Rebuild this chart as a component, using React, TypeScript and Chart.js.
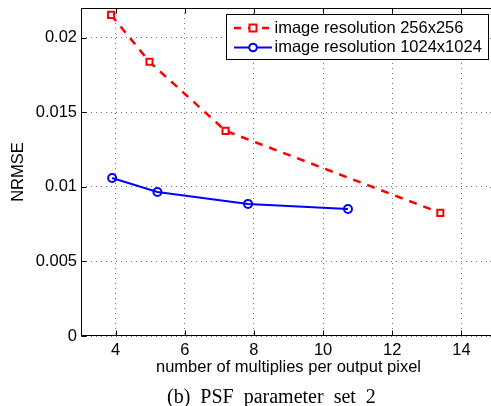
import { useEffect, useRef } from "react";
import { Chart, registerables } from "chart.js";

Chart.register(...registerables);

// ---- data ----
const seriesLabels = ["image resolution 256x256", "image resolution 1024x1024"];
const lowResX = [3.87, 4.98, 7.18, 13.39];
const lowResY = [0.02154, 0.01839, 0.01376, 0.00826];
const highResX = [3.9, 5.21, 7.83, 10.72];
const highResY = [0.0106, 0.00966, 0.00886, 0.00852];
const xTicks = [4, 6, 8, 10, 12, 14];
const xTickLabels = ["4", "6", "8", "10", "12", "14"];
const yTicks = [0, 0.005, 0.01, 0.015, 0.02];
const yTickLabels = ["0", "0.005", "0.01", "0.015", "0.02"];
const xTitle = "number of multiplies per output pixel";
const yTitle = "NRMSE";
const caption = "(b) PSF parameter set 2";

const SANS = '"Liberation Sans", Arial, Helvetica, sans-serif';
const SERIF = '"Liberation Serif", "Times New Roman", serif';
const FONT_SIZE = 16.5;
const RED = "#ff0000";
const BLUE = "#0000ff";

const framePlugin = {
  id: "framePlugin",
  afterDraw(chart: any) {
    const ctx = chart.ctx as CanvasRenderingContext2D;
    const { left, right, top, bottom } = chart.chartArea;
    const xs = chart.scales.x;
    const ys = chart.scales.y;
    ctx.save();
    // frame
    ctx.strokeStyle = "#000";
    ctx.lineWidth = 1;
    ctx.setLineDash([]);
    const L = Math.round(left) + 0.5;
    const R = Math.round(right) - 0.5;
    const T = Math.round(top) + 0.5;
    const B = Math.round(bottom) - 0.5;
    ctx.strokeRect(L, T, R - L, B - T);
    // inner ticks
    const tl = 5;
    ctx.beginPath();
    xTicks.forEach((v) => {
      const px = Math.round(xs.getPixelForValue(v)) + 0.5;
      ctx.moveTo(px, B);
      ctx.lineTo(px, B - tl);
      ctx.moveTo(px, T);
      ctx.lineTo(px, T + tl);
    });
    yTicks.forEach((v) => {
      const py = Math.round(ys.getPixelForValue(v)) + 0.5;
      ctx.moveTo(L, py);
      ctx.lineTo(L + tl, py);
      ctx.moveTo(R, py);
      ctx.lineTo(R - tl, py);
    });
    ctx.stroke();

    // legend box
    const bw = 262;
    const bh = 45;
    const bx = Math.round(right) - 8 - bw + 0.5;
    const by = Math.round(top) + 6 + 0.5;
    ctx.fillStyle = "#fff";
    ctx.fillRect(bx, by, bw, bh);
    ctx.strokeStyle = "#000";
    ctx.lineWidth = 1;
    ctx.strokeRect(bx, by, bw, bh);
    const rows = [by + 13.5, by + 33];
    const lx0 = bx + 7.5;
    const lx1 = bx + 45.5;
    const mx = bx + 26.5;
    ctx.font = `${FONT_SIZE}px ${SANS}`;
    ctx.textBaseline = "middle";
    ctx.textAlign = "left";
    // red row
    ctx.strokeStyle = RED;
    ctx.lineWidth = 2.5;
    ctx.setLineDash([7, 7]);
    ctx.beginPath();
    ctx.moveTo(lx0, rows[0]);
    ctx.lineTo(lx1, rows[0]);
    ctx.stroke();
    ctx.setLineDash([]);
    ctx.lineWidth = 2;
    ctx.fillStyle = "#fff";
    ctx.fillRect(mx - 3.5, rows[0] - 3.5, 7, 7);
    ctx.strokeRect(mx - 3.5, rows[0] - 3.5, 7, 7);
    // blue row
    ctx.strokeStyle = BLUE;
    ctx.beginPath();
    ctx.moveTo(lx0, rows[1]);
    ctx.lineTo(lx1, rows[1]);
    ctx.stroke();
    ctx.beginPath();
    ctx.arc(mx, rows[1], 3.8, 0, Math.PI * 2);
    ctx.fill();
    ctx.stroke();
    ctx.fillStyle = "#000";
    ctx.fillText(seriesLabels[0], bx + 48, rows[0]);
    ctx.fillText(seriesLabels[1], bx + 48, rows[1]);

    // caption
    ctx.font = `20px ${SERIF}`;
    ctx.textBaseline = "alphabetic";
    ctx.textAlign = "left";
    (ctx as any).wordSpacing = "5px";
    ctx.fillText(caption, 167, 403);
    ctx.restore();
  },
};

export default function App() {
  const ref = useRef<HTMLCanvasElement | null>(null);
  useEffect(() => {
    if (!ref.current) return;
    const font = { family: SANS, size: FONT_SIZE };
    const chart = new Chart(ref.current, {
      type: "scatter",
      data: {
        datasets: [
          {
            label: seriesLabels[0],
            data: lowResX.map((x, i) => ({ x, y: lowResY[i] })),
            showLine: true,
            borderColor: RED,
            backgroundColor: "rgba(0,0,0,0)",
            borderWidth: 2.5,
            borderDash: [8, 7],
            pointStyle: "rect",
            pointRadius: 4.3,
            pointBorderWidth: 2,
            pointBorderColor: RED,
            pointBackgroundColor: "#ffffff",
          },
          {
            label: seriesLabels[1],
            data: highResX.map((x, i) => ({ x, y: highResY[i] })),
            showLine: true,
            borderColor: BLUE,
            backgroundColor: "rgba(0,0,0,0)",
            borderWidth: 2,
            pointStyle: "circle",
            pointRadius: 4,
            pointBorderWidth: 2,
            pointBorderColor: BLUE,
            pointBackgroundColor: "rgba(0,0,0,0)",
          },
        ],
      },
      options: {
        animation: false,
        responsive: false,
        devicePixelRatio: 1,
        layout: { autoPadding: false, padding: { top: 8, right: 1, bottom: 28, left: 0 } },
        plugins: {
          legend: { display: false },
          tooltip: { enabled: false },
          title: { display: false },
        },
        scales: {
          x: {
            type: "linear",
            min: 3,
            max: 15,
            afterBuildTicks: (s: any) => {
              s.ticks = xTicks.map((v) => ({ value: v }));
            },
            afterFit: (s: any) => {
              s.height = 42;
              s.paddingLeft = 0;
              s.paddingRight = 0;
            },
            ticks: {
              padding: 5,
              font,
              color: "#000",
              maxRotation: 0,
              autoSkip: false,
              callback: (_v: any, i: number) => xTickLabels[i],
            },
            grid: { color: "rgba(0,0,0,0.55)", drawTicks: false, lineWidth: 1 },
            border: { display: false, dash: [1, 4] },
            title: {
              display: true,
              text: xTitle,
              font,
              color: "#000",
              padding: { top: 0, bottom: 1 },
            },
          },
          y: {
            type: "linear",
            min: 0,
            max: 0.022,
            afterBuildTicks: (s: any) => {
              s.ticks = yTicks.map((v) => ({ value: v }));
            },
            afterFit: (s: any) => {
              s.width = 81;
              s.paddingTop = 0;
              s.paddingBottom = 0;
            },
            ticks: {
              padding: 4,
              font,
              color: "#000",
              autoSkip: false,
              callback: (_v: any, i: number) => yTickLabels[i],
            },
            grid: { color: "rgba(0,0,0,0.55)", drawTicks: false, lineWidth: 1 },
            border: { display: false, dash: [1, 4] },
            title: {
              display: true,
              text: yTitle,
              font,
              color: "#000",
              padding: { top: 9, bottom: 0 },
            },
          },
        },
      },
      plugins: [framePlugin],
    } as any);
    return () => chart.destroy();
  }, []);

  return (
    <div
      style={{
        position: "fixed",
        left: 0,
        top: 0,
        width: 491,
        height: 406,
        overflow: "hidden",
        background: "#fff",
      }}
    >
      <canvas ref={ref} width={497} height={406} style={{ display: "block", width: 497, height: 406 }} />
    </div>
  );
}
